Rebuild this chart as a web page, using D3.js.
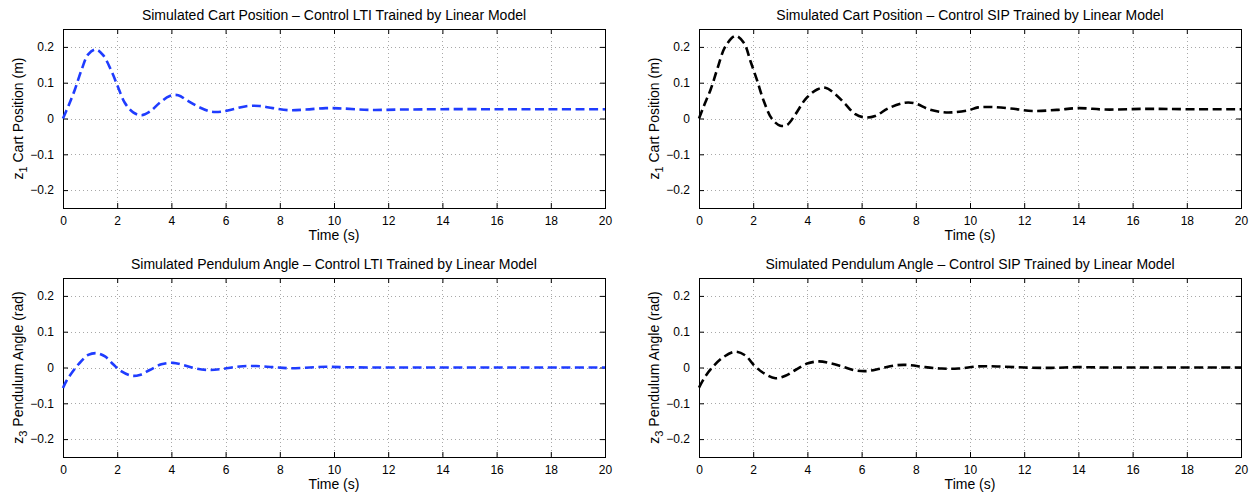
<!DOCTYPE html>
<html>
<head>
<meta charset="utf-8">
<script src="https://cdn.jsdelivr.net/npm/d3@7"></script>
<style>
  html, body { margin: 0; padding: 0; background: #fff; }
  svg { display: block; font-family: "Liberation Sans", Arial, Helvetica, sans-serif; }
</style>
</head>
<body>
<svg id="chart" width="1253" height="494"></svg>
<script>
// Axis ticks shared by every panel
const xTicks = [0, 2, 4, 6, 8, 10, 12, 14, 16, 18, 20];
const yTicks = [-0.2, -0.1, 0, 0.1, 0.2];
const yTickLabels = ["\u22120.2", "\u22120.1", "0", "0.1", "0.2"];

// Cart position, LTI controller (m)
const cartTimeLTI = [0, 0.2, 0.44, 0.69, 0.93, 1.21, 1.48, 1.79, 2.04, 2.28, 2.59, 2.9, 3.2, 3.57, 3.94, 4.25, 4.61, 5.04, 5.47, 5.84, 6.27, 6.82, 7.25, 7.74, 8.36, 8.97, 9.7, 10.3, 11.3, 12.5, 14, 16, 18, 20];
const cartLTI = [0, 0.035, 0.081, 0.137, 0.179, 0.193, 0.177, 0.132, 0.086, 0.044, 0.017, 0.009, 0.019, 0.044, 0.063, 0.065, 0.049, 0.031, 0.019, 0.019, 0.026, 0.035, 0.035, 0.029, 0.023, 0.025, 0.029, 0.028, 0.024, 0.025, 0.026, 0.026, 0.026, 0.026];

// Cart position, SIP controller (m)
const cartTimeSIP = [0, 0.18, 0.43, 0.67, 0.98, 1.35, 1.66, 1.9, 2.15, 2.39, 2.7, 3.0, 3.25, 3.56, 3.93, 4.36, 4.66, 5.03, 5.4, 5.77, 6.13, 6.5, 7.0, 7.6, 7.98, 8.47, 8.96, 9.33, 9.94, 10.3, 10.8, 11.5, 12.3, 13.2, 14, 15, 16.5, 18, 20];
const cartSIP = [0, 0.035, 0.081, 0.137, 0.202, 0.231, 0.211, 0.160, 0.105, 0.049, -0.002, -0.020, -0.018, 0.012, 0.054, 0.081, 0.086, 0.068, 0.040, 0.012, 0.003, 0.007, 0.029, 0.044, 0.042, 0.026, 0.018, 0.017, 0.023, 0.031, 0.032, 0.028, 0.021, 0.024, 0.029, 0.025, 0.027, 0.026, 0.026];

// Pendulum angle, LTI controller (rad)
const angleTimeLTI = [0, 0.13, 0.38, 0.63, 0.93, 1.24, 1.55, 1.85, 2.16, 2.53, 2.83, 3.2, 3.63, 4.06, 4.43, 4.92, 5.41, 5.9, 6.52, 7.13, 7.74, 8.36, 9.1, 9.7, 10.3, 11.5, 13, 15, 17, 20];
const angleLTI = [-0.057, -0.037, -0.009, 0.014, 0.035, 0.040, 0.031, 0.009, -0.011, -0.023, -0.021, -0.007, 0.009, 0.013, 0.007, -0.003, -0.007, -0.004, 0.003, 0.004, 0.001, -0.002, 0, 0.002, 0.001, 0, 0, 0, 0, 0];

// Pendulum angle, SIP controller (rad)
const angleTimeSIP = [0, 0.25, 0.55, 0.92, 1.35, 1.72, 2.02, 2.39, 2.82, 3.19, 3.56, 3.99, 4.42, 4.85, 5.28, 5.77, 6.2, 6.69, 7.24, 7.73, 8.34, 8.96, 9.57, 10.3, 11, 12, 13, 14, 15, 17, 20];
const angleSIP = [-0.056, -0.023, 0.005, 0.030, 0.044, 0.033, 0.007, -0.016, -0.030, -0.023, -0.007, 0.011, 0.017, 0.012, 0.003, -0.008, -0.010, -0.003, 0.006, 0.007, 0.001, -0.003, -0.003, 0.003, 0.003, 0, -0.001, 0.001, 0, 0, 0];

const blue = "#1f3cff";
const black = "#000000";

const panels = [
  { title: "Simulated Cart Position \u2013 Control LTI Trained by Linear Model", sub: "1", label: " Cart Position (m)", t: cartTimeLTI, v: cartLTI, color: blue, left: 63, top: 29 },
  { title: "Simulated Cart Position \u2013 Control SIP Trained by Linear Model", sub: "1", label: " Cart Position (m)", t: cartTimeSIP, v: cartSIP, color: black, left: 699, top: 29 },
  { title: "Simulated Pendulum Angle \u2013 Control LTI Trained by Linear Model", sub: "3", label: " Pendulum Angle (rad)", t: angleTimeLTI, v: angleLTI, color: blue, left: 63, top: 278 },
  { title: "Simulated Pendulum Angle \u2013 Control SIP Trained by Linear Model", sub: "3", label: " Pendulum Angle (rad)", t: angleTimeSIP, v: angleSIP, color: black, left: 699, top: 278 }
];

const W = 542, H = 179, tickLen = 5;
const svg = d3.select("#chart");

panels.forEach(p => {
  const g = svg.append("g").attr("transform", `translate(${p.left},${p.top})`);
  const x = d3.scaleLinear().domain([0, 20]).range([0, W]);
  const y = d3.scaleLinear().domain([-0.25, 0.25]).range([H, 0]);

  // dotted grid
  const grid = g.append("g").attr("stroke", "#a8a8a8").attr("stroke-width", 1).attr("stroke-dasharray", "1,3");
  grid.selectAll(".gx").data(xTicks.slice(1, -1)).join("line")
    .attr("x1", d => Math.round(x(d)) + 0.5).attr("x2", d => Math.round(x(d)) + 0.5)
    .attr("y1", 0).attr("y2", H);
  grid.selectAll(".gy").data(yTicks).join("line")
    .attr("y1", d => Math.round(y(d)) + 0.5).attr("y2", d => Math.round(y(d)) + 0.5)
    .attr("x1", 0).attr("x2", W);

  // axes with inward ticks on all four sides
  const fmtY = d => yTickLabels[yTicks.indexOf(d)];
  const axisStyle = sel => {
    sel.select(".domain").remove();
    sel.selectAll(".tick line").attr("stroke", "#000");
    sel.selectAll(".tick text").attr("fill", "#000").attr("font-size", 12)
      .attr("font-family", "'Liberation Sans', Arial, Helvetica, sans-serif");
  };
  g.append("g").attr("transform", `translate(0,${H})`)
    .call(d3.axisBottom(x).tickValues(xTicks).tickSizeInner(-tickLen).tickSizeOuter(0).tickPadding(8).tickFormat(d3.format("d")))
    .call(axisStyle);
  g.append("g")
    .call(d3.axisTop(x).tickValues(xTicks).tickSizeInner(-tickLen).tickSizeOuter(0).tickFormat(""))
    .call(axisStyle);
  g.append("g")
    .call(d3.axisLeft(y).tickValues(yTicks).tickSizeInner(-tickLen).tickSizeOuter(0).tickPadding(9).tickFormat(fmtY))
    .call(axisStyle);
  g.append("g").attr("transform", `translate(${W},0)`)
    .call(d3.axisRight(y).tickValues(yTicks).tickSizeInner(-tickLen).tickSizeOuter(0).tickFormat(""))
    .call(axisStyle);

  // frame
  g.append("rect").attr("x", 0.5).attr("y", 0.5).attr("width", W).attr("height", H)
    .attr("fill", "none").attr("stroke", "#000").attr("stroke-width", 1);

  // response curve
  const pts = p.t.map((t, i) => [t, p.v[i]]);
  const line = d3.line().x(d => x(d[0])).y(d => y(d[1])).curve(d3.curveCatmullRom.alpha(0.5));
  g.append("path").datum(pts).attr("d", line)
    .attr("fill", "none").attr("stroke", p.color).attr("stroke-width", 2.6)
    .attr("stroke-dasharray", "9,4.5");

  // title
  g.append("text").attr("x", W / 2).attr("y", -9).attr("text-anchor", "middle")
    .attr("font-size", 14).attr("fill", "#000").text(p.title);

  // x label
  g.append("text").attr("x", W / 2).attr("y", H + 32).attr("text-anchor", "middle")
    .attr("font-size", 14).attr("fill", "#000").text("Time (s)");

  // y label with subscript
  const yl = g.append("text")
    .attr("transform", `translate(-40,${H / 2}) rotate(-90)`)
    .attr("text-anchor", "middle").attr("font-size", 14).attr("fill", "#000");
  yl.append("tspan").text("z");
  yl.append("tspan").attr("dy", 4).attr("font-size", 11).text(p.sub);
  yl.append("tspan").attr("dy", -4).text(p.label);
});
</script>
</body>
</html>
